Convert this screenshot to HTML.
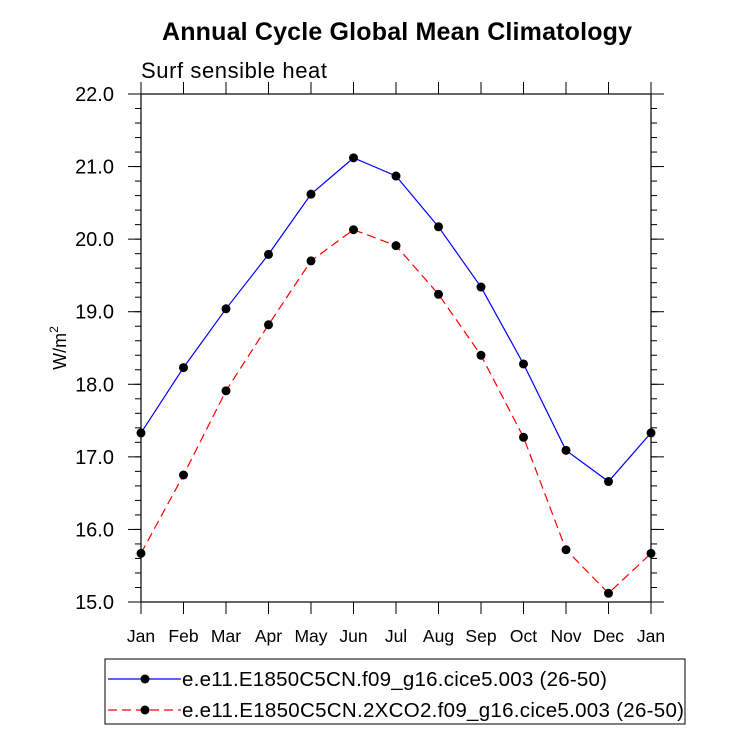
<!DOCTYPE html>
<html><head><meta charset="utf-8"><style>
body{margin:0;background:#fff}
svg text{font-family:"Liberation Sans",Arial,sans-serif;fill:#000}
</style></head><body>
<svg id="chart" width="733" height="734" xmlns="http://www.w3.org/2000/svg">
<text x="397" y="40" font-size="25" font-weight="bold" text-anchor="middle" textLength="470">Annual Cycle Global Mean Climatology</text>
<text x="141" y="78" font-size="22" textLength="186">Surf sensible heat</text>
<text transform="translate(66,348) rotate(-90)" font-size="18" text-anchor="middle">W/m<tspan font-size="12" dy="-8">2</tspan></text>
<g id="axes"></g>
<g id="series"></g>
<rect x="105" y="659" width="580" height="65" fill="none" stroke="#000" stroke-width="1"/>
<g>
<line x1="108" y1="679" x2="181" y2="679" stroke="#0000ff" stroke-width="1.2"/>
<circle cx="145" cy="679" r="4.5" fill="#000"/>
<text x="182" y="686" font-size="20.5" textLength="425">e.e11.E1850C5CN.f09_g16.cice5.003 (26-50)</text>
</g>
<g>
<line x1="108" y1="710" x2="181" y2="710" stroke="#ff0000" stroke-width="1.2" stroke-dasharray="9,5"/>
<circle cx="145" cy="710" r="4.5" fill="#000"/>
<text x="182" y="717" font-size="20.5" textLength="502">e.e11.E1850C5CN.2XCO2.f09_g16.cice5.003 (26-50)</text>
</g>
</svg>
<script>
const months=["Jan","Feb","Mar","Apr","May","Jun","Jul","Aug","Sep","Oct","Nov","Dec","Jan"];
const controlValues=[17.33,18.23,19.04,19.79,20.62,21.12,20.87,20.17,19.34,18.28,17.09,16.66,17.33];
const co2Values=[15.67,16.75,17.91,18.82,19.70,20.13,19.91,19.24,18.40,17.27,15.72,15.12,15.67];
const yTicks=[15,16,17,18,19,20,21,22];
const NS="http://www.w3.org/2000/svg";
const L=141,R=651,T=94,B=602,ymin=15,ymax=22;
const xs=i=>L+i*(R-L)/12;
const ys=v=>B-(v-ymin)*(B-T)/(ymax-ymin);
function mk(tag,attrs,parent){const e=document.createElementNS(NS,tag);for(const k in attrs)e.setAttribute(k,attrs[k]);parent.appendChild(e);return e;}
const ax=document.getElementById('axes');
const frame=mk('rect',{x:L,y:T,width:R-L,height:B-T,fill:'none',stroke:'#000','stroke-width':1.2},ax);


yTicks.forEach(v=>{
  const y=ys(v);
  mk('line',{x1:L-13,y1:y,x2:L,y2:y,stroke:'#000'},ax);
  mk('line',{x1:R,y1:y,x2:R+13,y2:y,stroke:'#000'},ax);
  const t=mk('text',{x:114,y:y+7,'font-size':20,'text-anchor':'end'},ax);
  t.textContent=v.toFixed(1);
  
  
});
for(let v=ymin;v<ymax-0.01;v+=0.2){
  const y=ys(v);
  mk('line',{x1:L-6,y1:y,x2:L,y2:y,stroke:'#000'},ax);
  mk('line',{x1:R,y1:y,x2:R+6,y2:y,stroke:'#000'},ax);
}
months.forEach((m,i)=>{
  const x=xs(i);
  mk('line',{x1:x,y1:B,x2:x,y2:B+12,stroke:'#000'},ax);
  mk('line',{x1:x,y1:T-12,x2:x,y2:T,stroke:'#000'},ax);
  const t=mk('text',{x:x,y:B+40,'font-size':17.5,'text-anchor':'middle'},ax);
  t.textContent=m;
  
  
});
const sg=document.getElementById('series');
function series(vals,color,dash,name){
  const g=mk('g',{},sg);
  
  
  const pts=vals.map((v,i)=>xs(i)+','+ys(v)).join(' ');
  const a={points:pts,fill:'none',stroke:color,'stroke-width':1.2};
  if(dash)a['stroke-dasharray']=dash;
  mk('polyline',a,g);
  vals.forEach((v,i)=>{
    const c=mk('circle',{cx:xs(i),cy:ys(v),r:4.5,fill:'#000'},g);
    
    
  });
}
series(controlValues,'#0000ff',null,'series-control');
series(co2Values,'#ff0000','9,5','series-2xco2');
</script>
</body></html>
